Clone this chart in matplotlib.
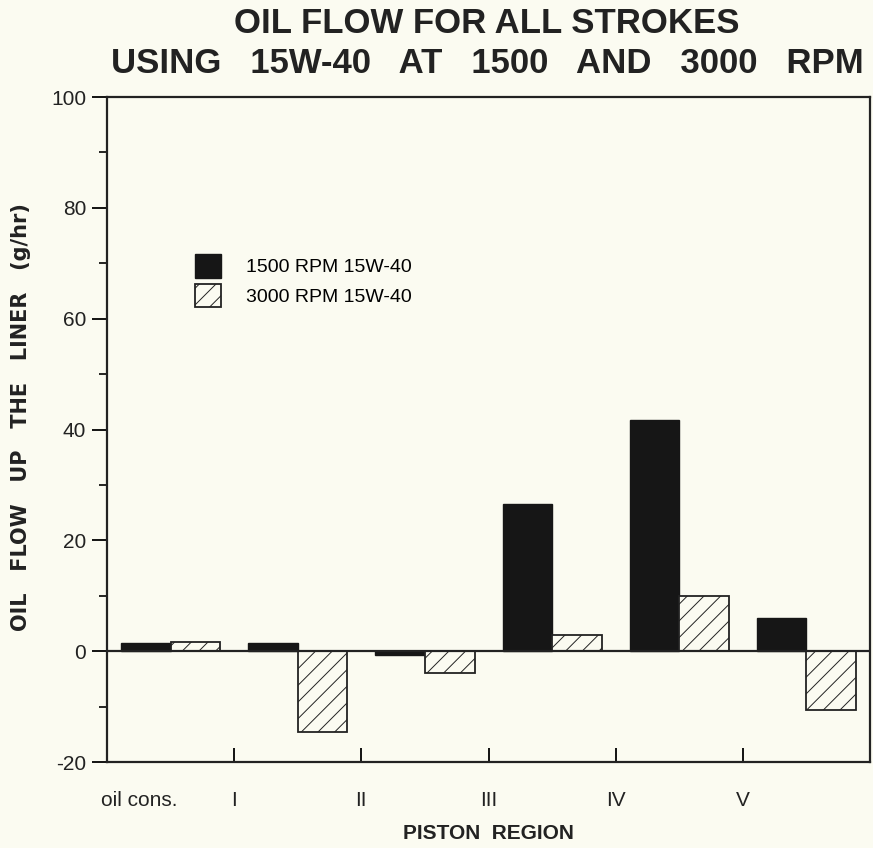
import numpy as np
import matplotlib
matplotlib.use('Agg')
import matplotlib.pyplot as plt
from matplotlib.ticker import MultipleLocator

# data
regions = ['oil cons.', 'I', 'II', 'III', 'IV', 'V']
flow_1500 = [1.4, 1.4, -0.6, 26.6, 41.7, 5.9]
flow_3000 = [1.6, -14.5, -4.0, 2.9, 9.9, -10.6]
series_names = ['1500 RPM 15W-40', '3000 RPM 15W-40']

bg = '#fbfbf1'
plt.rcParams['hatch.linewidth'] = 0.7
plt.rcParams['axes.unicode_minus'] = False
plain = ['Liberation Sans', 'DejaVu Sans']

fig = plt.figure(figsize=(8.73, 8.48), dpi=100, facecolor=bg)
ax = fig.add_axes([0.1226, 0.1014, 0.8740, 0.7842])
ax.set_facecolor(bg)

x = np.arange(len(regions))
w = 0.39
ax.bar(x - w / 2, flow_1500, w, color='#161616', edgecolor='#161616',
       linewidth=1.0, label=series_names[0])
ax.bar(x + w / 2, flow_3000, w, color=bg, edgecolor='#222222',
       linewidth=1.3, hatch='//', label=series_names[1])
ax.axhline(0, color='#222222', lw=1.6, zorder=3)

ax.set_xlim(-0.5, 5.5)
ax.set_ylim(-20, 100)
ax.yaxis.set_major_locator(MultipleLocator(20))
ax.yaxis.set_minor_locator(MultipleLocator(10))
ax.tick_params(axis='y', which='major', direction='out', length=11, width=1.3,
               labelsize=15, pad=4)
ax.tick_params(axis='y', which='minor', direction='out', length=6, width=1.2)
for lab in ax.get_yticklabels():
    lab.set_family(plain)
    lab.set_color('#222222')

# x ticks sit on the boundaries between groups, pointing up
ax.set_xticks(x[:-1] + 0.5)
ax.set_xticklabels([])
ax.tick_params(axis='x', which='major', direction='in', length=10, width=1.3)
for i, name in enumerate(regions):
    xpos = -0.25 if i == 0 else i - 0.5
    ax.text(xpos, -0.058, name, transform=ax.get_xaxis_transform(),
            ha='center', va='center', fontsize=15, family=plain,
            color='#222222')

for s in ax.spines.values():
    s.set_linewidth(1.6)
    s.set_color('#222222')

ax.text(0.5, -0.108, 'PISTON  REGION', transform=ax.transAxes, ha='center',
        va='center', fontsize=15, family=plain, fontweight='bold',
        color='#222222')
fig.text(0.024, 0.508, 'OIL   FLOW   UP   THE   LINER   (g/hr)', rotation=90,
         ha='center', va='center', fontsize=15, family=['DejaVu Sans'],
         fontweight='bold', color='#222222')

fig.text(0.558, 0.972, 'OIL FLOW FOR ALL STROKES', ha='center', va='center',
         fontsize=25, family=plain, fontweight='bold', color='#222222')
fig.text(0.558, 0.925, 'USING   15W-40   AT   1500   AND   3000   RPM',
         ha='center', va='center', fontsize=25, family=plain,
         fontweight='bold', color='#222222')

leg = ax.legend(loc='upper left', bbox_to_anchor=(0.093, 0.79), frameon=False,
                handlelength=1.3, handleheight=1.5,
                handletextpad=1.3, labelspacing=0.3,
                prop={'family': plain, 'size': 14})

fig.savefig('out.png', dpi=100, facecolor=bg)
